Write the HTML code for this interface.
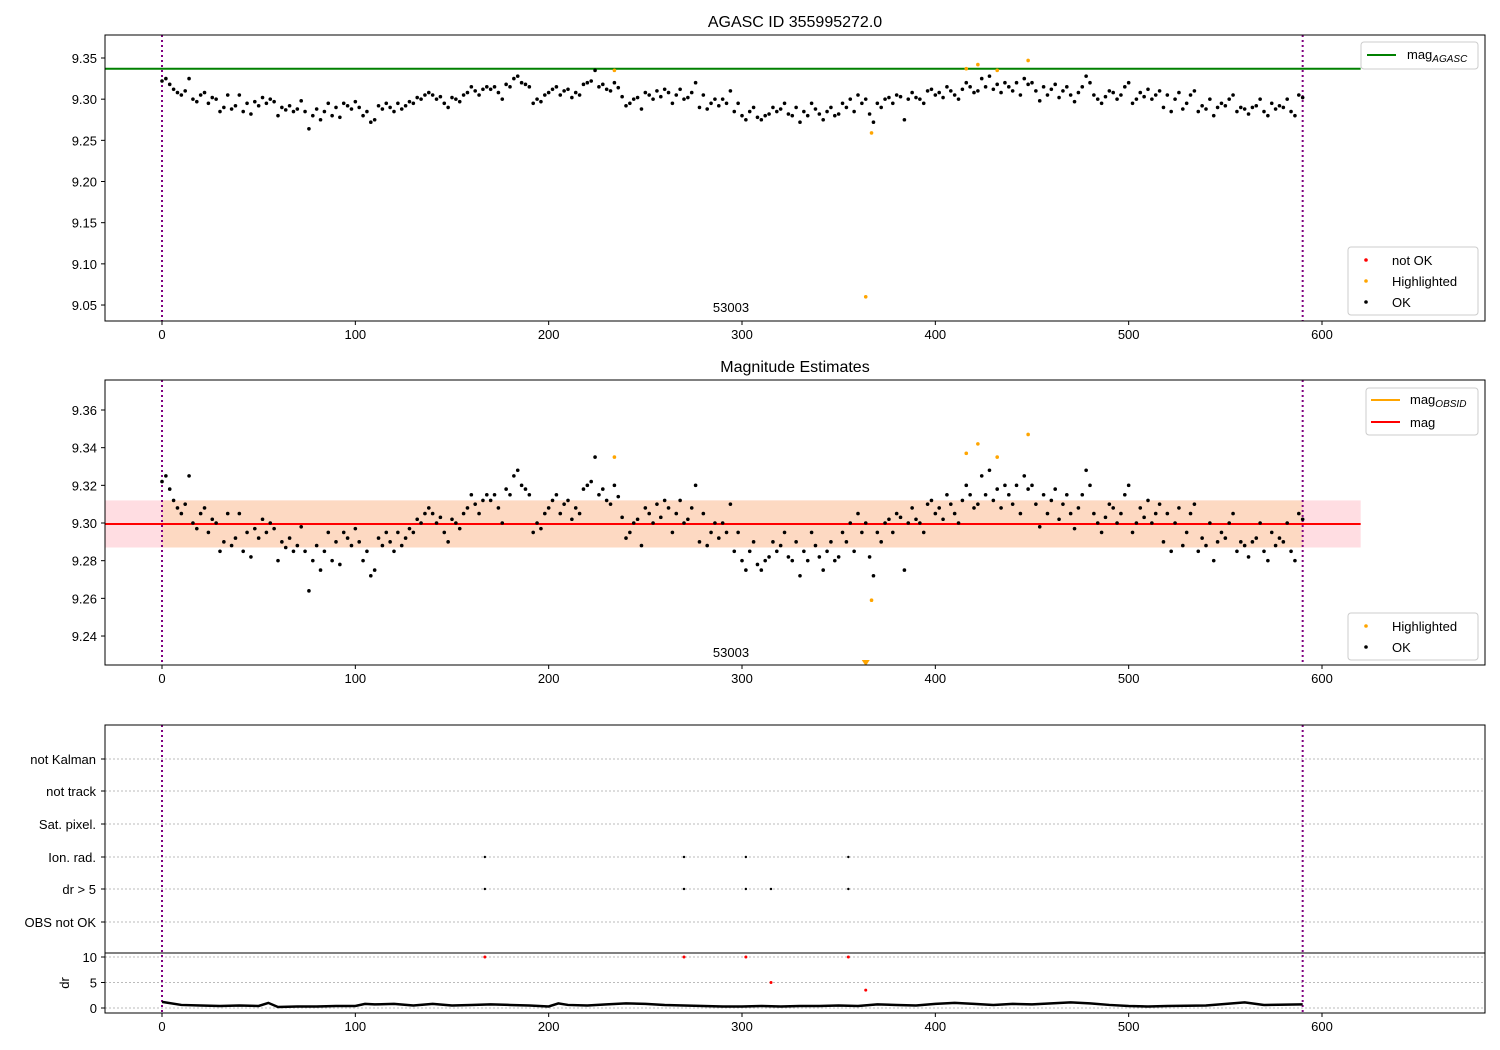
<!DOCTYPE html>
<html><head><meta charset="utf-8">
<style>
html,body{margin:0;padding:0;background:#fff;}
svg{display:block;font-family:"Liberation Sans","DejaVu Sans",sans-serif;}
</style></head>
<body>
<svg id="chart" width="1500" height="1050" viewBox="0 0 1500 1050" xmlns="http://www.w3.org/2000/svg">
<g id="root"></g>
</svg>
<script>
// ---- data ----
const sampleStep = 2;
const magOffsetMmag = [
22,25,18,12,8, 5,10,25,0,-3, 5,8,-5,2,0, -15,-10,5,-12,-8, 5,-15,-5,-18,-3, -8,2,-5,0,-3,
-20,-10,-13,-8,-15, -12,-2,-15,-36,-20, -12,-25,-15,-5,-20, -10,-22,-5,-8,-12,
-3,-10,-20,-15,-28, -25,-8,-12,-5,-10, -15,-5,-12,-8,-3, -5,2,0,5,8, 5,0,3,-5,-10,
2,0,-3,5,8, 15,10,5,12,15, 12,15,8,0,18, 15,25,28,20,18, 15,-5,0,-3,5,
8,12,15,5,10, 12,2,8,5,18, 20,22,35,15,18, 12,10,20,14,3, -8,-5,0,2,-12,
8,5,0,10,3, 12,8,-5,5,12, 0,2,8,20,-10, 5,-12,-5,0,-8, 0,-5,10,-15,-5,
-20,-25,-15,-10,-22, -25,-20,-18,-10,-15, -12,-5,-18,-20,-10, -28,-15,-20,-5,-12,
-18,-25,-15,-10,-20, -18,-5,-10,0,-15, 5,-5,0,-18,-28, -5,-10,0,2,-5,
5,3,-25,0,8, 2,0,-5,10,12, 5,8,2,15,10, 5,0,12,20,15, 8,10,25,15,28,
12,18,8,20,15, 10,20,5,25,18, 20,10,-2,15,5, 12,18,2,10,15, 5,-3,8,15,28,
20,5,0,-5,3, 10,8,0,5,15, 20,-5,0,8,3, 12,0,5,10,-10, 5,-15,0,8,-12,
-5,5,10,-15,-8, -12,0,-20,-10,-5, -8,0,5,-15,-10, -12,-18,-10,-8,0,
-15,-20,-5,-12,-8, -10,0,-15,-20,5, 2
];
const highlightX = [234, 367, 364, 416, 422, 432, 448];
const highlightMag = [9.335, 9.259, 9.06, 9.337, 9.342, 9.335, 9.347];
const magAgasc = 9.337;
const magMean = 9.2995;
const magBandLow = 9.287;
const magBandHigh = 9.312;
const drSampleX = [0,10,20,30,40,50,55,60,70,80,90,100,105,110,120,130,140,150,160,170,180,190,200,205,210,220,230,240,250,260,270,280,290,300,310,320,330,340,350,360,370,380,390,400,410,420,430,440,450,460,470,480,490,500,510,520,540,560,570,590];
const drSampleVal = [1.2,0.6,0.5,0.4,0.5,0.4,1.0,0.2,0.3,0.3,0.4,0.4,0.8,0.7,0.8,0.5,0.8,0.5,0.6,0.7,0.6,0.5,0.3,0.9,0.6,0.5,0.7,0.9,0.8,0.6,0.5,0.4,0.3,0.3,0.4,0.3,0.4,0.4,0.5,0.4,0.7,0.6,0.5,0.8,1.0,0.8,0.6,0.8,0.7,0.9,1.1,0.9,0.6,0.4,0.3,0.4,0.5,1.1,0.6,0.7];
const drRedX = [167, 270, 302, 355, 315, 364];
const drRedVal = [10, 10, 10, 10, 5, 3.5];
const flagCategories = ["OBS not OK","dr > 5","Ion. rad.","Sat. pixel.","not track","not Kalman"];
const ionRadX = [167, 270, 302, 355];
const drGt5X = [167, 270, 302, 315, 355];
const xTicks = [0,100,200,300,400,500,600];
const y1Ticks = [9.05,9.10,9.15,9.20,9.25,9.30,9.35];
const y2Ticks = [9.24,9.26,9.28,9.30,9.32,9.34,9.36];
const drTicks = [0,5,10];
const obsidLabel = "53003";

// ---- scales ----
const X = v => 162 + (v) * (1160/600);
const Y1 = v => 58 + (9.35 - v) * 823.4;
const Y2 = v => 410 + (9.36 - v) * 1883.5;
const YD = v => 1008 - v * 5.1;
const catY = [922, 889, 857, 824, 791, 759];

const NS = "http://www.w3.org/2000/svg";
const root = document.getElementById('root');
function mk(tag, attrs, parent) {
  const e = document.createElementNS(NS, tag);
  for (const k in attrs) e.setAttribute(k, attrs[k]);
  (parent || root).appendChild(e);
  return e;
}
function txt(s, attrs, parent) { const t = mk('text', attrs, parent); t.textContent = s; return t; }

// clip paths
const defs = mk('defs', {});
[[1,105,35,1380,286],[2,105,380,1380,285],[3,105,725,1380,288]].forEach(c => {
  const cp = mk('clipPath', {id: 'clip' + c[0]}, defs);
  mk('rect', {x: c[1], y: c[2], width: c[3], height: c[4]}, cp);
});

function xAxis(yBottom, g) {
  xTicks.forEach(t => {
    mk('line', {x1: X(t), x2: X(t), y1: yBottom, y2: yBottom + 4, stroke: '#000'}, g);
    txt(String(t), {x: X(t), y: yBottom + 18, 'font-size': 13, 'text-anchor': 'middle'}, g);
  });
}

// ======== PANEL 1 ========
const p1 = mk('g', {});


const t1 = txt('AGASC ID 355995272.0', {x: 795, y: 27, 'font-size': 16, 'text-anchor': 'middle'}, p1);


const c1 = mk('g', {'clip-path': 'url(#clip1)'}, p1);
const gl = mk('line', {x1: 105, x2: X(620), y1: Y1(magAgasc), y2: Y1(magAgasc), stroke: 'green', 'stroke-width': 2}, c1);


[0, 590].forEach(v => mk('line', {x1: X(v), x2: X(v), y1: 35, y2: 321, stroke: 'purple', 'stroke-width': 2, 'stroke-dasharray': '2,3'}, c1));
magOffsetMmag.forEach((o, i) => {
  const c = mk('circle', {cx: X(i * sampleStep), cy: Y1(9.3 + o / 1000), r: 1.8, fill: '#000'}, c1);
  
  
});
highlightX.forEach((x, i) => {
  const c = mk('circle', {cx: X(x), cy: Y1(highlightMag[i]), r: 1.8, fill: 'orange'}, c1);
  
  
});
txt(obsidLabel, {x: 731, y: 312, 'font-size': 13, 'text-anchor': 'middle'}, p1);
mk('rect', {x: 105, y: 35, width: 1380, height: 286, fill: 'none', stroke: '#000'}, p1);
xAxis(321, p1);
y1Ticks.forEach(t => {
  mk('line', {x1: 101, x2: 105, y1: Y1(t), y2: Y1(t), stroke: '#000'}, p1);
  txt(t.toFixed(2), {x: 97, y: Y1(t) + 5, 'font-size': 13, 'text-anchor': 'end'}, p1);
});

// legends panel 1
function legendBox(x, y, w, h, name) {
  const g = mk('g', {});
  
  
  mk('rect', {x: x, y: y, width: w, height: h, rx: 3, fill: '#fff', 'fill-opacity': 0.8, stroke: '#ccc'}, g);
  return g;
}
function subText(g, x, y, main, sub) {
  const t = txt(main, {x: x, y: y, 'font-size': 13}, g);
  const s = mk('tspan', {'font-size': 10, 'font-style': 'italic', dy: 3}, t);
  s.textContent = sub;
}
let lg = legendBox(1361, 42, 117, 27, 'agasc-legend');
mk('line', {x1: 1367, x2: 1396, y1: 55, y2: 55, stroke: 'green', 'stroke-width': 2}, lg);
subText(lg, 1407, 59, 'mag', 'AGASC');

function pointLegend(x, y, w, entries, name) {
  const g = legendBox(x, y, w, entries.length * 21 + 5, name);
  entries.forEach((e, i) => {
    const cy = y + 13 + i * 21;
    mk('circle', {cx: x + 18, cy: cy, r: 1.8, fill: e[1]}, g);
    txt(e[0], {x: x + 44, y: cy + 5, 'font-size': 13}, g);
  });
}
pointLegend(1348, 247, 130, [['not OK', 'red'], ['Highlighted', 'orange'], ['OK', 'black']], 'point-legend-top');

// ======== PANEL 2 ========
const p2 = mk('g', {});


const t2 = txt('Magnitude Estimates', {x: 795, y: 372, 'font-size': 16, 'text-anchor': 'middle'}, p2);


const c2 = mk('g', {'clip-path': 'url(#clip2)'}, p2);
mk('rect', {x: X(-30), y: Y2(magBandHigh), width: X(620) - X(-30), height: Y2(magBandLow) - Y2(magBandHigh), fill: '#ffdde2'}, c2);
mk('rect', {x: X(0), y: Y2(magBandHigh), width: X(590) - X(0), height: Y2(magBandLow) - Y2(magBandHigh), fill: '#fdd9c2'}, c2);
[0, 590].forEach(v => mk('line', {x1: X(v), x2: X(v), y1: 380, y2: 665, stroke: 'purple', 'stroke-width': 2, 'stroke-dasharray': '2,3'}, c2));
mk('line', {x1: X(0), x2: X(590), y1: Y2(magMean), y2: Y2(magMean), stroke: 'orange', 'stroke-width': 2}, c2);
const rl = mk('line', {x1: X(-30), x2: X(620), y1: Y2(magMean), y2: Y2(magMean), stroke: 'red', 'stroke-width': 2}, c2);


magOffsetMmag.forEach((o, i) => {
  const c = mk('circle', {cx: X(i * sampleStep), cy: Y2(9.3 + o / 1000), r: 1.8, fill: '#000'}, c2);
  
  
});
highlightX.forEach((x, i) => {
  const v = highlightMag[i];
  if (v < 9.2246) {
    const px = X(x);
    mk('path', {d: `M${px - 4},660 L${px + 4},660 L${px},666 Z`, fill: 'orange'}, c2);
  } else {
    const c = mk('circle', {cx: X(x), cy: Y2(v), r: 1.8, fill: 'orange'}, c2);
    
    
  }
});
txt(obsidLabel, {x: 731, y: 657, 'font-size': 13, 'text-anchor': 'middle'}, p2);
mk('rect', {x: 105, y: 380, width: 1380, height: 285, fill: 'none', stroke: '#000'}, p2);
xAxis(665, p2);
y2Ticks.forEach(t => {
  mk('line', {x1: 101, x2: 105, y1: Y2(t), y2: Y2(t), stroke: '#000'}, p2);
  txt(t.toFixed(2), {x: 97, y: Y2(t) + 5, 'font-size': 13, 'text-anchor': 'end'}, p2);
});
lg = legendBox(1366, 388, 112, 47, 'estimates-legend');
mk('line', {x1: 1371, x2: 1400, y1: 400, y2: 400, stroke: 'orange', 'stroke-width': 2}, lg);
subText(lg, 1410, 404, 'mag', 'OBSID');
mk('line', {x1: 1371, x2: 1400, y1: 422, y2: 422, stroke: 'red', 'stroke-width': 2}, lg);
txt('mag', {x: 1410, y: 427, 'font-size': 13}, lg);
pointLegend(1348, 613, 130, [['Highlighted', 'orange'], ['OK', 'black']], 'point-legend-estimates');

// ======== PANEL 3 ========
const p3 = mk('g', {});


const c3 = mk('g', {'clip-path': 'url(#clip3)'}, p3);
catY.forEach(y => mk('line', {x1: 105, x2: 1485, y1: y, y2: y, stroke: '#bbb', 'stroke-dasharray': '2,2'}, c3));
drTicks.forEach(t => mk('line', {x1: 105, x2: 1485, y1: YD(t), y2: YD(t), stroke: '#bbb', 'stroke-dasharray': '2,2'}, c3));
mk('line', {x1: 105, x2: 1485, y1: 953, y2: 953, stroke: '#000'}, c3);
[0, 590].forEach(v => mk('line', {x1: X(v), x2: X(v), y1: 725, y2: 1013, stroke: 'purple', 'stroke-width': 2, 'stroke-dasharray': '2,3'}, c3));
ionRadX.forEach(x => mk('circle', {cx: X(x), cy: catY[2], r: 1.2, fill: '#000'}, c3));
drGt5X.forEach(x => mk('circle', {cx: X(x), cy: catY[1], r: 1.2, fill: '#000'}, c3));
const drPts = drSampleX.map((x, i) => X(x) + ',' + YD(drSampleVal[i])).join(' ');
const drl = mk('polyline', {points: drPts, fill: 'none', stroke: '#000', 'stroke-width': 2.5}, c3);


drRedX.forEach((x, i) => {
  const c = mk('circle', {cx: X(x), cy: YD(drRedVal[i]), r: 1.5, fill: 'red'}, c3);
  
  
});
mk('rect', {x: 105, y: 725, width: 1380, height: 288, fill: 'none', stroke: '#000'}, p3);
xAxis(1013, p3);
flagCategories.forEach((c, i) => {
  mk('line', {x1: 101, x2: 105, y1: catY[i], y2: catY[i], stroke: '#000'}, p3);
  txt(c, {x: 96, y: catY[i] + 5, 'font-size': 13, 'text-anchor': 'end'}, p3);
});
drTicks.forEach(t => {
  mk('line', {x1: 101, x2: 105, y1: YD(t), y2: YD(t), stroke: '#000'}, p3);
  txt(String(t), {x: 97, y: YD(t) + 5, 'font-size': 13, 'text-anchor': 'end'}, p3);
});
txt('dr', {x: 0, y: 0, 'font-size': 13, 'text-anchor': 'middle', transform: 'translate(69,983) rotate(-90)'}, p3);
</script>
</body></html>
